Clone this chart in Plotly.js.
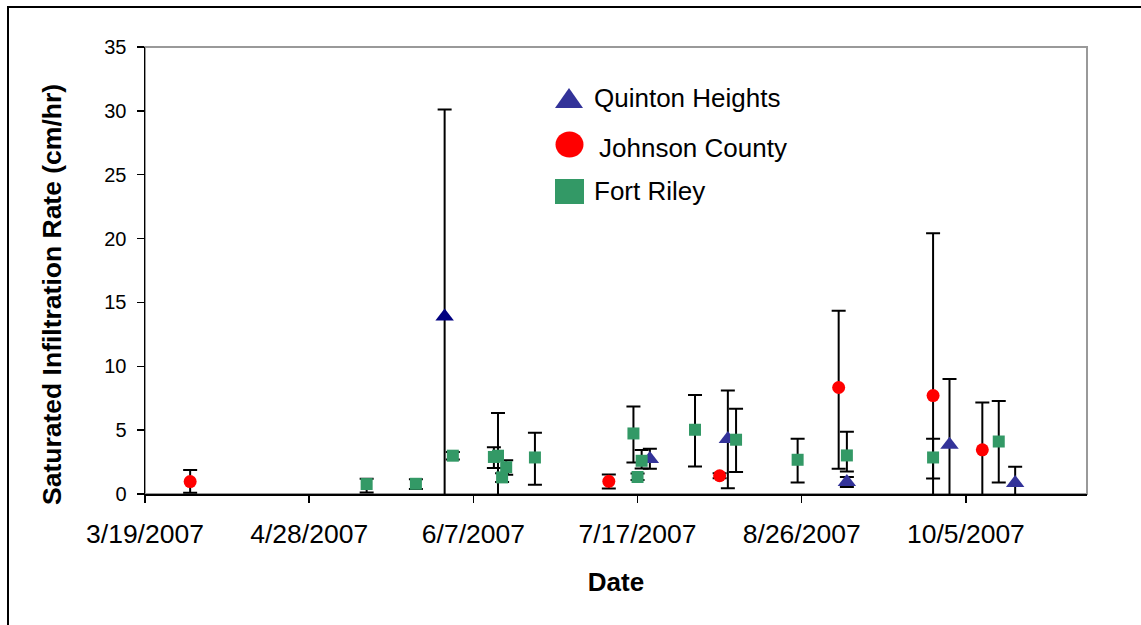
<!DOCTYPE html>
<html>
<head>
<meta charset="utf-8">
<script src="https://cdn.plot.ly/plotly-3.0.1.min.js"></script>
<style>
  html, body { margin: 0; padding: 0; background: #fff; overflow: hidden; }
  #chart { width: 1141px; height: 625px; }
  #frame { position: absolute; left: 7px; top: 6px; width: 1200px; height: 700px;
           border-left: 2px solid #000; border-top: 2px solid #000; pointer-events: none; }
</style>
</head>
<body>
<div id="chart"></div>
<div id="frame"></div>
<script>
// ---------------- data ----------------
const seriesNames = ['Quinton Heights', 'Johnson County', 'Fort Riley'];

const qhDates   = ['2007-05-31', '2007-07-20', '2007-08-08', '2007-09-06', '2007-10-01', '2007-10-17'];
const qhRate    = [13.9, 2.74, 4.3, 0.94, 3.85, 0.86];
const qhErrUp   = [16.2, 0.8, 3.8, 0.4, 5.16, 1.27];
const qhErrDown = [16.2, 0.76, 3.85, 0.4, 5.16, 1.2];

const jcDates   = ['2007-03-30', '2007-07-10', '2007-08-06', '2007-09-04', '2007-09-27', '2007-10-09'];
const jcRate    = [0.97, 0.99, 1.43, 8.34, 7.71, 3.46];
const jcErrUp   = [0.9, 0.54, 0.2, 6.0, 12.7, 3.7];
const jcErrDown = [0.87, 0.55, 0.2, 6.36, 12.7, 3.77];

const frDates   = ['2007-05-12', '2007-05-24', '2007-06-02', '2007-06-12', '2007-06-13', '2007-06-14',
                   '2007-06-15', '2007-06-22', '2007-07-16', '2007-07-17', '2007-07-18', '2007-07-31',
                   '2007-08-10', '2007-08-25', '2007-09-06', '2007-09-27', '2007-10-13'];
const frRate    = [0.78, 0.8, 3.0, 2.9, 3.0, 1.3, 2.1, 2.86, 4.74, 1.33, 2.6, 5.03, 4.25, 2.68, 3.02, 2.86, 4.11];
const frErrUp   = [0.42, 0.35, 0.28, 0.77, 3.35, 0.33, 0.55, 1.93, 2.11, 0.28, 0.85, 2.73, 2.42, 1.64, 1.85, 1.46, 3.18];
const frErrDown = [0.66, 0.4, 0.3, 0.87, 3.3, 0.36, 0.6, 2.13, 2.27, 0.24, 0.6, 2.87, 2.53, 1.77, 1.25, 1.64, 3.2];

const xTickDates  = ['2007-03-19', '2007-04-28', '2007-06-07', '2007-07-17', '2007-08-26', '2007-10-05'];
const xTickLabels = ['3/19/2007', '4/28/2007', '6/7/2007', '7/17/2007', '8/26/2007', '10/5/2007'];
const yTicks      = [0, 5, 10, 15, 20, 25, 30, 35];

const xTitle = 'Date';
const yTitle = 'Saturated Infiltration Rate (cm/hr)';

// ---------------- styles ----------------
const FONT = 'Liberation Sans, Arial, Helvetica, sans-serif';
const seriesColors = ['#333399', '#FF0000', '#339966'];
const firstQhColor = '#000080';
const errStyle = { type: 'data', symmetric: false, color: '#000', thickness: 2, width: 7 };

const plotL = 145, plotR = 1087, plotT = 47, plotB = 494;
const W = 1141, H = 625;
const px = v => (v - plotL) / (plotR - plotL);
const py = v => (plotB - v) / (plotB - plotT);

function trace(name, x, y, up, down, symbol, size, color) {
  return {
    type: 'scatter', mode: 'markers', name: name, x: x, y: y,
    showlegend: false,
    marker: { symbol: symbol, size: size, color: color, line: { width: 0 } },
    error_y: Object.assign({ array: up, arrayminus: down }, errStyle)
  };
}

const qhColors = qhDates.map((d, i) => i === 0 ? firstQhColor : seriesColors[0]);

const data = [
  trace(seriesNames[0], qhDates, qhRate, qhErrUp, qhErrDown, 'triangle-up', 16, qhColors),
  trace(seriesNames[1], jcDates, jcRate, jcErrUp, jcErrDown, 'circle', 13, seriesColors[1]),
  trace(seriesNames[2], frDates, frRate, frErrUp, frErrDown, 'square', 12, seriesColors[2])
];

// hand-made legend box (as in the original)
const legendRows = [
  { sym: 'triangle', cx: 569, cy: 98, tx: 592, ty: 98 },
  { sym: 'circle',   cx: 569.5, cy: 144.5, tx: 597, ty: 148 },
  { sym: 'square',   cx: 569.5, cy: 191.5, tx: 592, ty: 191 }
];
const shapes = [
  { type: 'rect', xref: 'paper', yref: 'paper', x0: 0, x1: 1, y0: 0, y1: 1,
    line: { color: '#999999', width: 2 }, layer: 'below' }
];
const annotations = [];
legendRows.forEach((r, i) => {
  const c = seriesColors[i];
  if (r.sym === 'triangle') {
    shapes.push({ type: 'path', xref: 'paper', yref: 'paper',
      path: `M${px(r.cx - 14)},${py(r.cy + 10)} L${px(r.cx + 14)},${py(r.cy + 10)} L${px(r.cx)},${py(r.cy - 10)} Z`,
      fillcolor: c, line: { width: 0 } });
  } else if (r.sym === 'circle') {
    shapes.push({ type: 'circle', xref: 'paper', yref: 'paper',
      x0: px(r.cx - 14), x1: px(r.cx + 14), y0: py(r.cy + 13), y1: py(r.cy - 13),
      fillcolor: c, line: { width: 0 } });
  } else {
    shapes.push({ type: 'rect', xref: 'paper', yref: 'paper',
      x0: px(r.cx - 14.5), x1: px(r.cx + 14.5), y0: py(r.cy + 12.5), y1: py(r.cy - 12.5),
      fillcolor: c, line: { width: 0 } });
  }
  annotations.push({ xref: 'paper', yref: 'paper', x: px(r.tx), y: py(r.ty),
    xanchor: 'left', yanchor: 'middle', showarrow: false, text: seriesNames[i],
    font: { family: FONT, size: 26, color: '#000' } });
});

// y-axis title, placed where the original puts it (lower than the plot centre)
annotations.push({ xref: 'paper', yref: 'paper', x: px(52), y: py(295),
  xanchor: 'center', yanchor: 'middle', showarrow: false, textangle: -90, text: yTitle,
  font: { family: FONT, size: 26.5, color: '#000', weight: 'bold' } });

const layout = {
  width: W, height: H,
  margin: { l: plotL, r: W - plotR, t: plotT, b: H - plotB, pad: 0 },
  paper_bgcolor: '#fff', plot_bgcolor: '#fff',
  font: { family: FONT, color: '#000' },
  showlegend: false,
  xaxis: {
    type: 'date', range: ['2007-03-19', '2007-11-03 12:00'],
    tickmode: 'array', tickvals: xTickDates, ticktext: xTickLabels,
    ticks: 'outside', ticklen: 7, tickwidth: 1.5, tickcolor: '#000',
    showline: true, linecolor: '#000', linewidth: 1.5,
    showgrid: false, zeroline: false,
    tickfont: { family: FONT, size: 26.5, color: '#000' },
    ticklabelstandoff: 9,
    title: { text: xTitle, font: { family: FONT, size: 26, color: '#000', weight: 'bold' }, standoff: 24 },
    fixedrange: true
  },
  yaxis: {
    range: [0, 35],
    tickmode: 'array', tickvals: yTicks,
    ticks: 'outside', ticklen: 7, tickwidth: 1.5, tickcolor: '#000',
    showline: true, linecolor: '#000', linewidth: 1.5,
    showgrid: false, zeroline: false,
    tickfont: { family: FONT, size: 20, color: '#000' },
    ticklabelstandoff: 6,
    fixedrange: true
  },
  shapes: shapes,
  annotations: annotations
};

Plotly.newPlot('chart', data, layout, { displayModeBar: false, staticPlot: true });
</script>
</body>
</html>
